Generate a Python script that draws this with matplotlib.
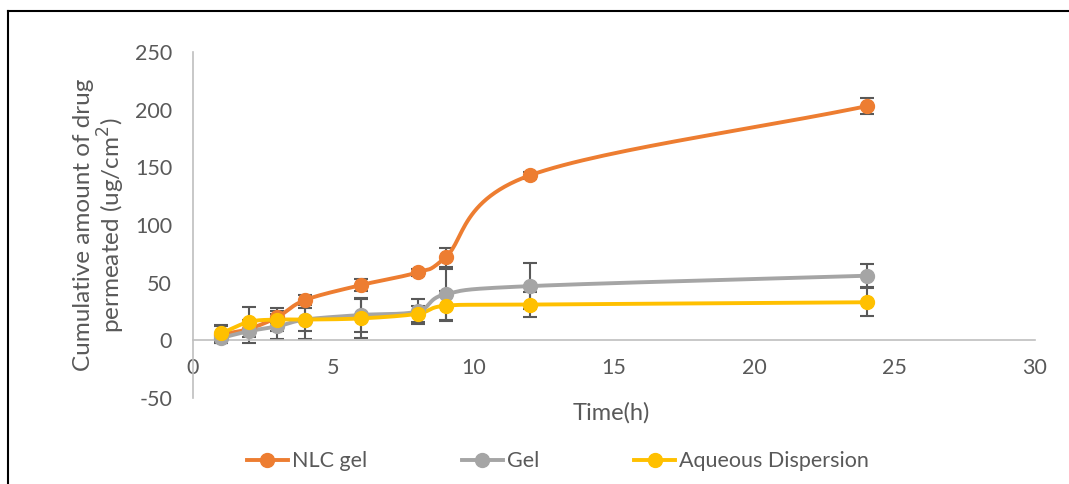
import numpy as np
import matplotlib.pyplot as plt
from matplotlib.lines import Line2D

# Data
time_h = [1, 2, 3, 4, 6, 8, 9, 12, 24]
nlc_gel = [5, 10, 20, 35, 48, 59, 72, 143, 203]
nlc_err = [7, 4, 5, 4, 5, 3, 8, 3, 7]
gel = [2, 8, 12, 18, 22, 25, 40, 47, 56]
gel_err = [4, 10, 11, 17, 15, 11, 22, 20, 10]
aqueous = [6, 16, 18, 18, 19, 23, 30, 31, 33]
aq_err = [7, 13, 10, 10, 17, 7, 13, 11, 12]

series = [
    ("NLC gel", nlc_gel, nlc_err, "#ED7D31"),
    ("Gel", gel, gel_err, "#A5A5A5"),
    ("Aqueous Dispersion", aqueous, aq_err, "#FFC000"),
]

text_col = "#595959"
plt.rcParams["font.family"] = ["Lato", "DejaVu Sans"]
plt.rcParams["axes.unicode_minus"] = False


def smooth(x, y, n=30):
    # Catmull-Rom curve through the points, like Excel's smoothed line
    x = np.asarray(x, float)
    y = np.asarray(y, float)
    px = np.concatenate([[2 * x[0] - x[1]], x, [2 * x[-1] - x[-2]]])
    py = np.concatenate([[2 * y[0] - y[1]], y, [2 * y[-1] - y[-2]]])
    xs, ys = [], []
    t = np.linspace(0, 1, n)
    for i in range(1, len(px) - 2):
        for arr, out in ((px, xs), (py, ys)):
            p0, p1, p2, p3 = arr[i - 1], arr[i], arr[i + 1], arr[i + 2]
            c1 = p1 + (p2 - p0) / 6
            c2 = p2 - (p3 - p1) / 6
            out.extend((1 - t) ** 3 * p1 + 3 * (1 - t) ** 2 * t * c1
                       + 3 * (1 - t) * t ** 2 * c2 + t ** 3 * p2)
    return xs, ys


fig = plt.figure(figsize=(10.69, 4.84), dpi=100)
ax = fig.add_axes([0.1805, 0.1777, 0.7877, 0.7149])

handles = []
for name, vals, err, col in series:
    ax.errorbar(time_h, vals, yerr=err, fmt="none", ecolor=text_col,
                elinewidth=1.5, capsize=5, capthick=1.5, zorder=2)
    sx, sy = smooth(time_h, vals)
    ax.plot(sx, sy, color=col, lw=2.8, zorder=3, solid_capstyle="round")
    ax.plot(time_h, vals, "o", color=col, ms=10, zorder=4)
    handles.append(Line2D([], [], color=col, lw=2.8, marker="o", ms=10))

ax.set_xlim(0, 30)
ax.set_ylim(-50, 250)
ax.set_xticks(range(0, 31, 5))
ax.set_yticks(range(-50, 251, 50))

for s in ["top", "right"]:
    ax.spines[s].set_visible(False)
ax.spines["bottom"].set_position(("data", 0))
for s in ["bottom", "left"]:
    ax.spines[s].set_color("#BFBFBF")
    ax.spines[s].set_linewidth(1.2)
ax.tick_params(axis="x", length=0, pad=13, labelsize=15.5, labelcolor=text_col)
ax.tick_params(axis="y", length=0, pad=15, labelsize=15.5, labelcolor=text_col)

ax.set_ylabel("Cumulative amount of drug\npermeated (ug/cm$^2$)",
              fontsize=17.5, color=text_col, labelpad=6, linespacing=1.05)
fig.text(0.572, 0.147, "Time(h)", fontsize=17, color=text_col,
         ha="center", va="center")

fig.legend(handles, [s[0] for s in series], loc="center",
           bbox_to_anchor=(0.522, 0.047), ncol=3, frameon=False,
           fontsize=15.5, labelcolor=text_col, handlelength=1.9,
           handletextpad=0.2, columnspacing=4.4)

# partial frame seen at the top and left of the reference
fig.add_artist(Line2D([8 / 1069, 1], [1 - 11 / 484, 1 - 11 / 484],
                      color="black", lw=1.5, transform=fig.transFigure))
fig.add_artist(Line2D([8 / 1069, 8 / 1069], [0, 1 - 11 / 484],
                      color="black", lw=1.5, transform=fig.transFigure))

fig.savefig("out.png", dpi=100)
